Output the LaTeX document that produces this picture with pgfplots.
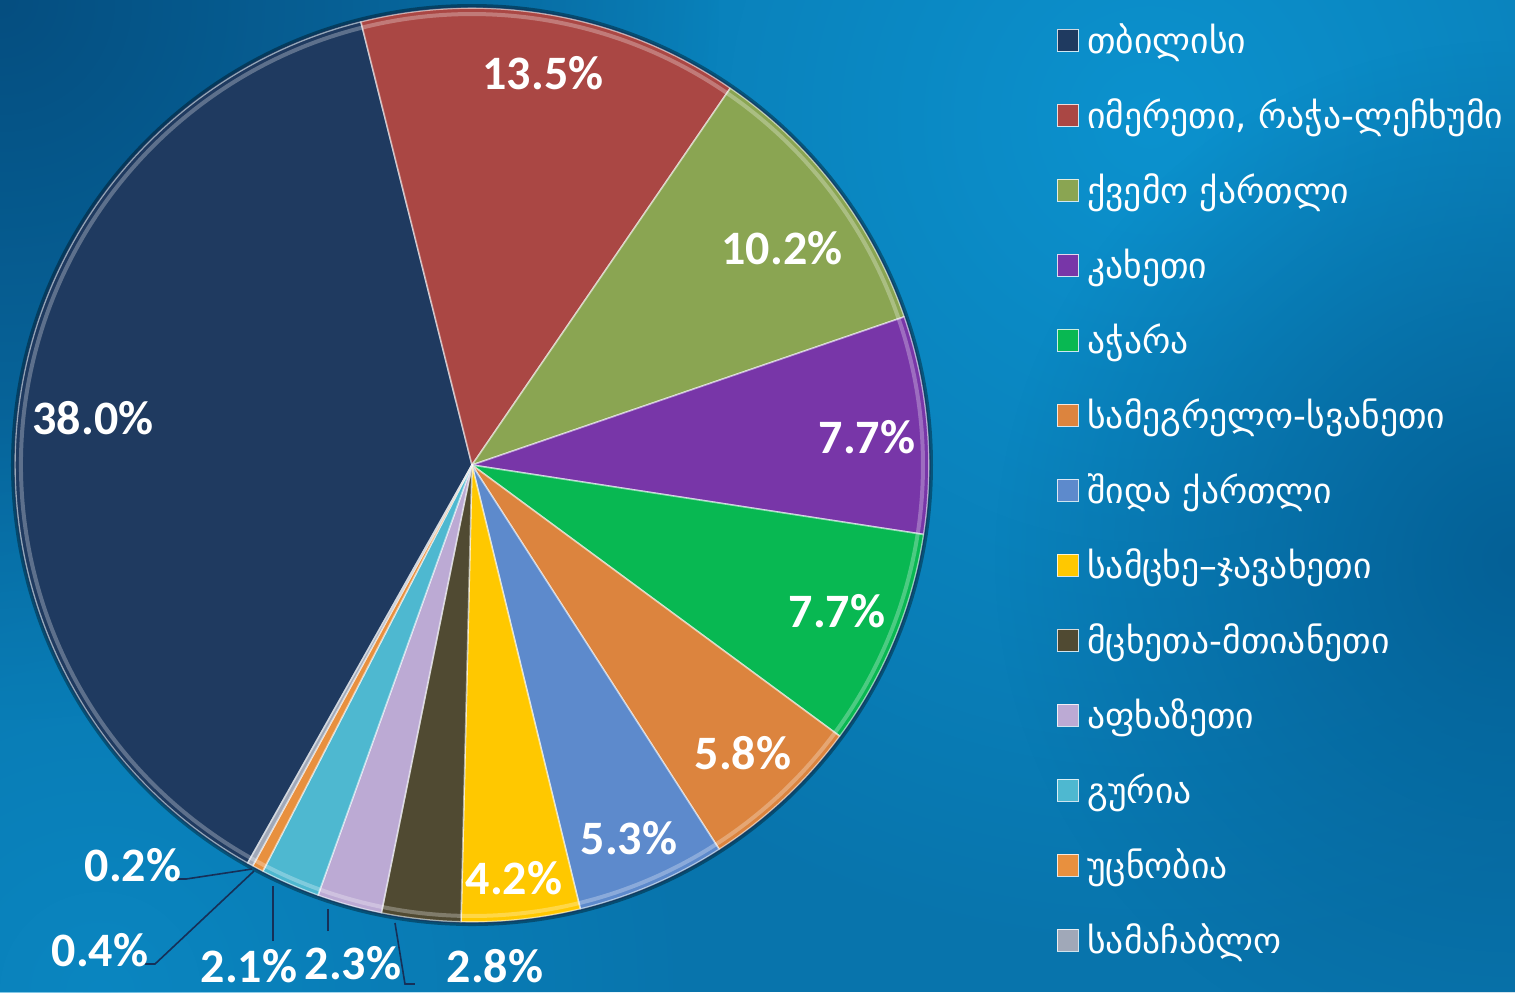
\documentclass[border=0pt]{standalone}
\usepackage{pgfplots}
\pgfplotsset{compat=1.18}
\usepackage{pgfplotstable}
\usepackage{fontspec}
\setmainfont{Carlito}
\newfontfamily\geo{DejaVu Sans}
\usetikzlibrary{fadings}

\definecolor{c0}{RGB}{31,58,96}
\definecolor{c1}{RGB}{170,71,68}
\definecolor{c2}{RGB}{138,165,82}
\definecolor{c3}{RGB}{120,54,168}
\definecolor{c4}{RGB}{8,184,82}
\definecolor{c5}{RGB}{220,132,62}
\definecolor{c6}{RGB}{93,138,204}
\definecolor{c7}{RGB}{255,200,0}
\definecolor{c8}{RGB}{80,74,50}
\definecolor{c9}{RGB}{188,170,212}
\definecolor{c10}{RGB}{78,184,208}
\definecolor{c11}{RGB}{232,144,62}
\definecolor{c12}{RGB}{160,168,184}
\definecolor{bgA}{RGB}{8,116,172}
\definecolor{bgLight}{RGB}{12,146,206}
\definecolor{bgDark}{RGB}{5,78,128}
\definecolor{bgDark2}{RGB}{4,96,150}
\definecolor{leader}{RGB}{22,48,88}

\tikzfading[name=glow, inner color=transparent!0, outer color=transparent!100]

\pgfplotstableread{
v lx ly
38.0 93 418
13.5 543 73
10.2 782 248
7.7 867 437
7.7 837 611
5.8 743 753
5.3 629 838
4.2 514 878
2.8 495 966
2.3 353 963
2.1 249 966
0.4 100 950
0.2 133 865
}\pietable

\gdef\acc{0}
\pgfplotstablegetrowsof{\pietable}
\pgfmathtruncatemacro\lastrow{\pgfplotsretval-1}
\foreach \i in {0,...,\lastrow}{%
  \pgfplotstablegetelem{\i}{v}\of\pietable
  \let\val\pgfplotsretval
  \pgfmathsetmacro\sa{240.6-\acc*3.6/1.002}%
  \pgfmathsetmacro\newacc{\acc+\val}%
  \pgfmathsetmacro\ea{240.6-\newacc*3.6/1.002}%
  \expandafter\xdef\csname sa\i\endcsname{\sa}%
  \expandafter\xdef\csname ea\i\endcsname{\ea}%
  \xdef\acc{\newacc}%
}

\begin{document}
\begin{tikzpicture}
\begin{axis}[scale only axis, width=757.5pt, height=496pt,
  xmin=0, xmax=1515, ymin=0, ymax=992, y dir=reverse,
  hide axis, clip=false, /pgf/number format/assume math mode=true]
% background
\fill[bgA] (axis cs:0,0) rectangle (axis cs:1515,992);
\fill[bgLight, path fading=glow] (axis cs:1150,120) circle[radius=420pt];
\fill[bgDark, path fading=glow] (axis cs:0,0) circle[radius=360pt];
\fill[bgDark2, path fading=glow] (axis cs:1515,560) circle[radius=260pt];
\fill[bgLight, path fading=glow, opacity=0.6] (axis cs:100,992) circle[radius=300pt];
% shadow ring
\draw[black, opacity=0.35, line width=2pt] (axis cs:472,465) circle[radius=229.5pt];
% slices
\pgfplotsinvokeforeach{0,...,12}{
  \fill[c#1, draw=white, draw opacity=0.55, line width=0.8pt, line join=round]
    (axis cs:472,465) -- ++({\csname sa#1\endcsname}:228.5pt)
    arc[start angle={\csname sa#1\endcsname}, end angle={\csname ea#1\endcsname}, radius=228.5pt] -- cycle;
}
\pgfplotsinvokeforeach{0,...,12}{
  \draw[white, opacity=0.28, line width=2pt]
    (axis cs:472,465) ++({\csname sa#1\endcsname}:225.5pt)
    arc[start angle={\csname sa#1\endcsname}, end angle={\csname ea#1\endcsname}, radius=225.5pt];
}
\draw[leader, line width=0.6pt, opacity=0.7] (axis cs:472,465) circle[radius=229pt];
% labels
\addplot[only marks, mark=none, point meta=explicit,
  nodes near coords={\pgfmathprintnumber[fixed,fixed zerofill,precision=1,assume math mode=true]{\pgfplotspointmeta}\%},
  every node near coord/.append style={anchor=center, text=white, inner sep=0pt,
    font=\bfseries\fontsize{24}{24}\selectfont}]
  table[x=lx, y=ly, meta=v] {\pietable};
% leader lines
\draw[leader, line width=0.8pt] (axis cs:175,879) -- (axis cs:186,879) -- (axis cs:252,869);
\draw[leader, line width=0.8pt] (axis cs:145,964) -- (axis cs:155,964) -- (axis cs:254,871);
\draw[leader, line width=0.8pt] (axis cs:273,941) -- (axis cs:273,886);
\draw[leader, line width=0.8pt] (axis cs:328,931) -- (axis cs:328,909);
\draw[leader, line width=0.8pt] (axis cs:415,984) -- (axis cs:405,984) -- (axis cs:395,923);
% legend
\pgfplotsinvokeforeach{0,...,12}{
  \fill[c#1, draw=white, draw opacity=0.8, line width=0.5pt]
    (axis cs:1057,{29+75*#1}) rectangle (axis cs:1078,{51+75*#1});
}
\begin{scope}[every node/.style={anchor=base west, text=white, inner sep=0pt,
    font=\geo\fontsize{17.8}{18}\selectfont}]
\node at (axis cs:1087,53) {თბილისი};
\node at (axis cs:1087,128) {იმერეთი, რაჭა-ლეჩხუმი};
\node at (axis cs:1087,203) {ქვემო ქართლი};
\node at (axis cs:1087,278) {კახეთი};
\node at (axis cs:1087,353) {აჭარა};
\node at (axis cs:1087,428) {სამეგრელო-სვანეთი};
\node at (axis cs:1087,503) {შიდა ქართლი};
\node at (axis cs:1087,578) {სამცხე–ჯავახეთი};
\node at (axis cs:1087,653) {მცხეთა-მთიანეთი};
\node at (axis cs:1087,728) {აფხაზეთი};
\node at (axis cs:1087,803) {გურია};
\node at (axis cs:1087,878) {უცნობია};
\node at (axis cs:1087,953) {სამაჩაბლო};
\end{scope}
\end{axis}
\pgfresetboundingbox
\path (current axis.south west) rectangle (current axis.north east);
\end{tikzpicture}
\end{document}
